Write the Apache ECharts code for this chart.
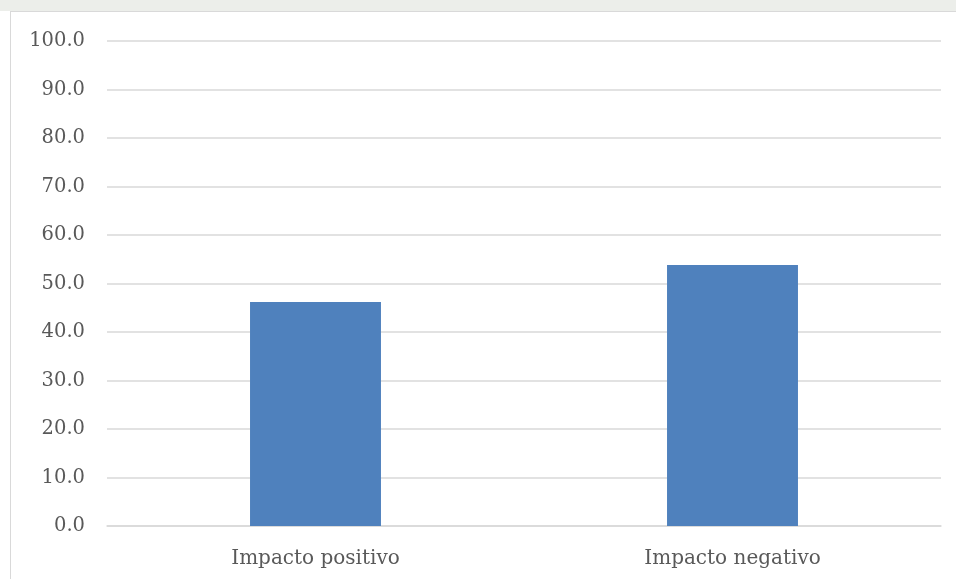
<!DOCTYPE html>
<html><head><meta charset="utf-8">
<script src="https://cdn.jsdelivr.net/npm/echarts@6/dist/echarts.min.js"></script>
<style>
html,body{margin:0;padding:0;background:#fff;width:956px;height:579px;overflow:hidden;}
#strip{position:absolute;left:0;top:0;width:956px;height:11px;background:#eceeea;}
#frame{position:absolute;left:10px;top:11px;width:960px;height:590px;border:1px solid #d9d9d9;box-sizing:border-box;background:#fff;}
#chart{position:absolute;left:0;top:0;width:956px;height:579px;}
</style></head>
<body>
<div id="strip"></div>
<div id="frame"></div>
<div id="chart"></div>
<script>
const categories = ["Impacto positivo", "Impacto negativo"];
const values = [46.2, 53.8];
const yTicks = {min: 0, max: 100, interval: 10};

const chart = echarts.init(document.getElementById('chart'), null, {renderer: 'canvas'});
chart.setOption({
  animation: false,
  backgroundColor: 'transparent',
  grid: {left: 107, right: 15, top: 41, bottom: 53},
  xAxis: {
    type: 'category', data: categories,
    axisLine: {show: true, lineStyle: {color: '#d9d9d9', width: 1.5}},
    axisTick: {show: false},
    axisLabel: {color: '#595959', fontFamily: 'DejaVu Serif', fontSize: 20, margin: 23}
  },
  yAxis: {
    type: 'value', min: yTicks.min, max: yTicks.max, interval: yTicks.interval,
    axisLine: {show: false}, axisTick: {show: false},
    splitLine: {lineStyle: {color: '#d9d9d9', width: 1.5}},
    axisLabel: {color: '#595959', fontFamily: 'DejaVu Serif', fontSize: 19.5, margin: 22,
      formatter: v => v.toFixed(1)}
  },
  series: [{
    type: 'bar', data: values, barWidth: '31.4%',
    itemStyle: {color: '#4f81bd'}
  }]
});
</script>
</body></html>
